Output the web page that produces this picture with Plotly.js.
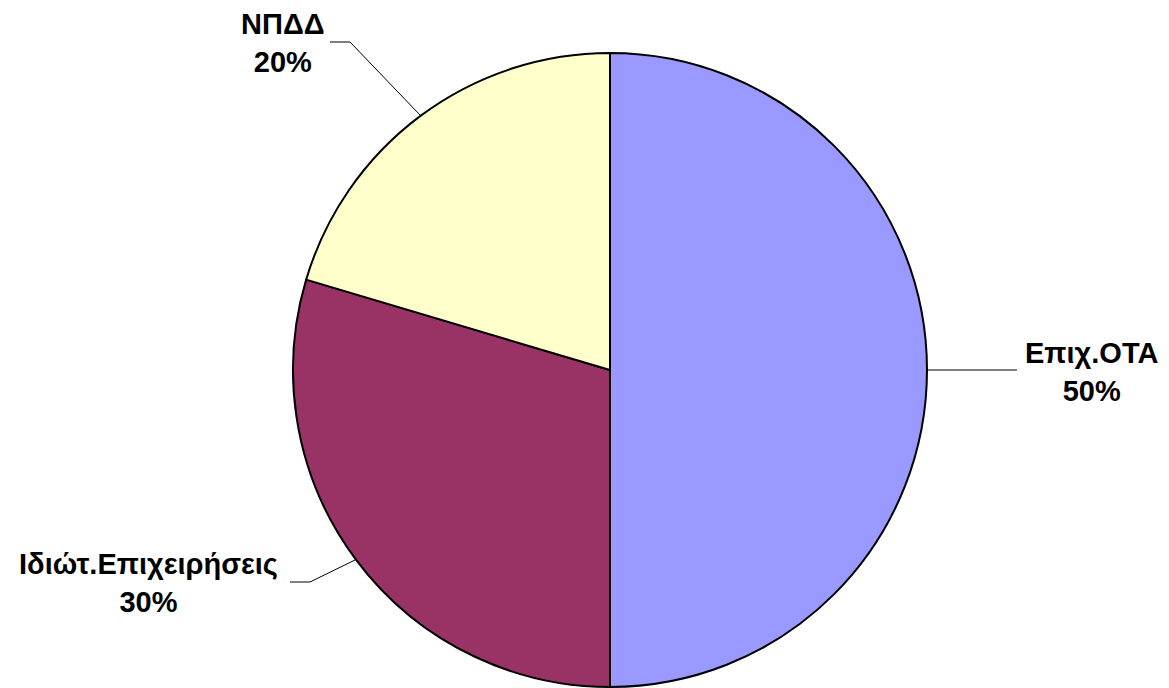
<!DOCTYPE html>
<html>
<head>
<meta charset="utf-8">
<script src="https://cdn.plot.ly/plotly-3.0.1.min.js"></script>
<style>html,body{margin:0;padding:0;background:#fff;}</style>
</head>
<body>
<div id="chart" style="width:1169px;height:688px;"></div>
<script>
var categories = ["Επιχ.ΟΤΑ", "Ιδιώτ.Επιχειρήσεις", "ΝΠΔΔ"];
var values = [50, 29.6, 20.4];
var colors = ["#9999FF", "#993366", "#FFFFCC"];

var W = 1169, H = 688;
function px(x){ return x / W; }
function py(y){ return 1 - y / H; }

var total = values.reduce(function(a, b){ return a + b; }, 0);
var pcts = values.map(function(v){ return Math.round(v / total * 100); });

var labelPos = [[1091, 372], [148, 583], [283, 43]];
var leaders = [
  [[927, 370], [1017, 370]],
  [[355, 560], [310, 582], [290, 582]],
  [[420, 115], [350, 42], [330, 42]]
];

var annotations = categories.map(function(c, i){
  return {
    x: px(labelPos[i][0]), y: py(labelPos[i][1]), xref: 'paper', yref: 'paper',
    text: '<b>' + c + '</b><br><b>' + pcts[i] + '%</b>',
    showarrow: false, xanchor: 'center', yanchor: 'middle', align: 'center',
    font: {family: 'Liberation Sans, Arial, sans-serif', size: 29, color: '#000'}
  };
});

var shapes = leaders.map(function(pts){
  var d = pts.map(function(p, k){ return (k ? 'L' : 'M') + px(p[0]) + ',' + py(p[1]); }).join(' ');
  return {type: 'path', xref: 'paper', yref: 'paper', path: d, line: {color: '#000', width: 1}};
});

var data = [{
  type: 'pie',
  labels: categories,
  values: values,
  sort: false,
  direction: 'clockwise',
  rotation: 0,
  textinfo: 'none',
  hoverinfo: 'label+percent',
  marker: {colors: colors, line: {color: '#000', width: 2}},
  domain: {x: [(610 - 317) / W, (610 + 317) / W], y: [py(687), py(53)]},
  showlegend: false
}];

var layout = {
  width: W, height: H,
  margin: {l: 0, r: 0, t: 0, b: 0},
  paper_bgcolor: '#fff',
  showlegend: false,
  annotations: annotations,
  shapes: shapes
};

Plotly.newPlot('chart', data, layout, {displayModeBar: false, staticPlot: true});
</script>
</body>
</html>
